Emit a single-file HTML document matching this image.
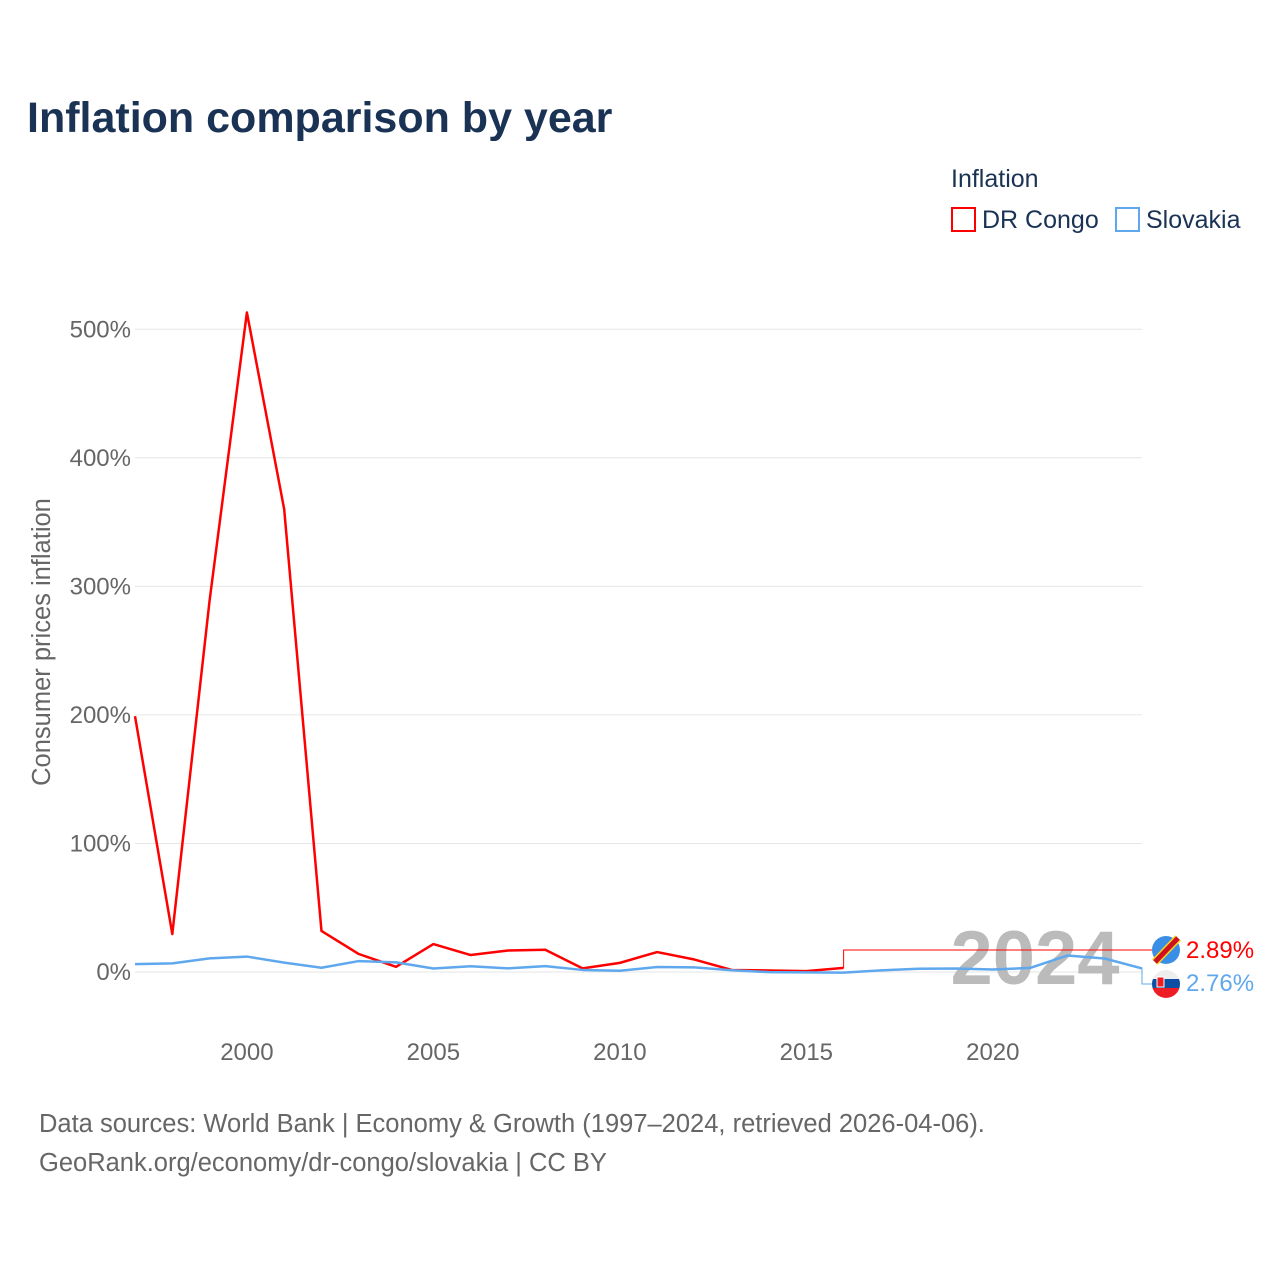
<!DOCTYPE html>
<html><head><meta charset="utf-8"><style>
body{margin:0;background:#fff;font-family:"Liberation Sans",sans-serif}
svg{display:block}
</style></head><body>
<svg id="chart" width="1280" height="1280" xmlns="http://www.w3.org/2000/svg">
<text x="27" y="132" font-size="43" font-weight="bold" fill="#1a3355">Inflation comparison by year</text>
<text x="951" y="187" font-size="25" fill="#1a3355">Inflation</text>
<g><rect x="952" y="208" width="23" height="23" fill="none" stroke="#f00" stroke-width="2"/><text x="982" y="228" font-size="25" fill="#1a3355">DR Congo</text></g>
<g><rect x="1116" y="208" width="23" height="23" fill="none" stroke="#5fa8ee" stroke-width="2"/><text x="1146" y="228" font-size="25" fill="#1a3355">Slovakia</text></g>
<text transform="translate(50,642) rotate(-90)" text-anchor="middle" font-size="25.5" fill="#666">Consumer prices inflation</text>
<g id="grid"></g><g id="xt"></g>
<text x="1035" y="984" text-anchor="middle" font-size="76" font-weight="bold" fill="#bbb">2024</text>
<g id="lines"></g>
<g><circle cx="1166" cy="950" r="14" fill="#3a8ee6"/><line x1="1155" y1="962" x2="1178" y2="938" stroke="#f7d618" stroke-width="8"/><line x1="1155" y1="962" x2="1178" y2="938" stroke="#ce1021" stroke-width="5"/></g>
<g><clipPath id="cs"><circle cx="1166" cy="984" r="14"/></clipPath><g clip-path="url(#cs)"><rect x="1150" y="970" width="32" height="10" fill="#eee"/><rect x="1150" y="979" width="32" height="10" fill="#0b4ea2"/><rect x="1150" y="988" width="32" height="12" fill="#ee1c25"/><rect x="1157" y="977" width="7" height="10" fill="#ee1c25" stroke="#fff"/></g></g>
<text x="1186" y="958" font-size="24" fill="#f00">2.89%</text>
<text x="1186" y="991" font-size="24" fill="#5fa8ee">2.76%</text>
<text x="39" y="1132" font-size="25.5" fill="#666">Data sources: World Bank | Economy &amp; Growth (1997–2024, retrieved 2026-04-06).</text>
<text x="39" y="1171" font-size="25.5" fill="#666">GeoRank.org/economy/dr-congo/slovakia | CC BY</text>
</svg>
<script>
const years=[1997,1998,1999,2000,2001,2002,2003,2004,2005,2006,2007,2008,2009,2010,2011,2012,2013,2014,2015,2016,2017,2018,2019,2020,2021,2022,2023,2024];
const congoYears=[1997,1998,1999,2000,2001,2002,2003,2004,2005,2006,2007,2008,2009,2010,2011,2012,2013,2014,2015,2016];
const congo=[199,29.5,289,513,360,31.9,14,4,21.7,13.2,16.7,17.3,2.8,7.1,15.5,9.7,1.6,1.2,0.7,3.2];
const slovakia=[6.1,6.7,10.6,12.0,7.3,3.3,8.5,7.5,2.7,4.5,2.8,4.6,1.6,1.0,3.9,3.6,1.4,-0.1,-0.3,-0.5,1.3,2.5,2.7,1.9,3.2,12.8,10.5,2.8];
const yTicks=[0,100,200,300,400,500];
const xTicks=[2000,2005,2010,2015,2020];
const X=y=>135+(y-1997)*(1142-135)/27;
const Y=v=>972-v*1.2855;
const NS="http://www.w3.org/2000/svg";
function mk(t,a,p){const e=document.createElementNS(NS,t);for(const k in a)e.setAttribute(k,a[k]);p.appendChild(e);return e;}
const g=document.getElementById('grid');
yTicks.forEach(v=>{
 const l=mk('line',{x1:135,x2:1142,y1:Y(v),y2:Y(v),stroke:'#e6e6e6','stroke-width':1},g);
 
 
 const t=mk('text',{x:131,y:Y(v)+8,'text-anchor':'end','font-size':24,fill:'#666'},g);
 t.textContent=v+'%';
 
 
});
const xt=document.getElementById('xt');
xTicks.forEach(v=>{
 const t=mk('text',{x:X(v),y:1060,'text-anchor':'middle','font-size':24,fill:'#666'},xt);
 t.textContent=v;
 
 
});
const L=document.getElementById('lines');
const pc=congoYears.map((y,i)=>X(y)+','+Y(congo[i])).join(' ');
const ps=years.map((y,i)=>X(y)+','+Y(slovakia[i])).join(' ');
const lc=mk('polyline',{points:pc,fill:'none',stroke:'#f00','stroke-width':2.5,'stroke-linejoin':'round'},L);


const ls=mk('polyline',{points:ps,fill:'none',stroke:'#5fa8ee','stroke-width':2.5,'stroke-linejoin':'round'},L);


const lastC=congoYears[congoYears.length-1];
const c1=mk('polyline',{points:`${X(lastC)},${Y(congo[congo.length-1])} ${X(lastC)},950 1152,950`,fill:'none',stroke:'#f00','stroke-width':1},L);


const c2=mk('polyline',{points:`${X(2024)},${Y(slovakia[slovakia.length-1])} 1142,984 1152,984`,fill:'none',stroke:'#5fa8ee','stroke-width':1},L);


</script>
</body></html>
